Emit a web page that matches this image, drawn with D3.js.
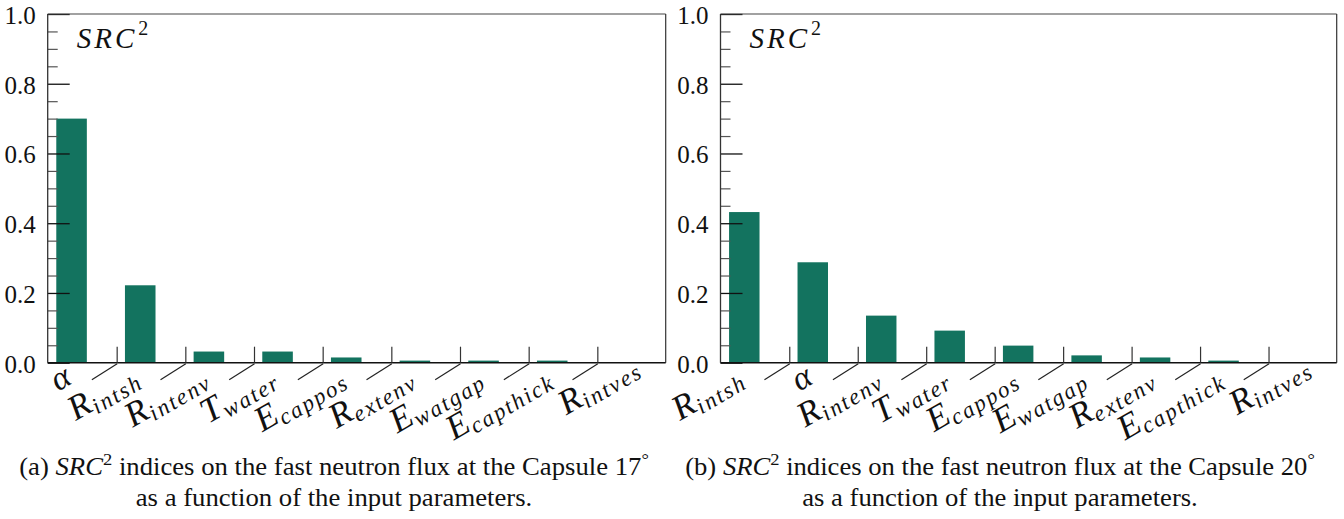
<!DOCTYPE html>
<html>
<head>
<meta charset="utf-8">
<script src="https://cdn.jsdelivr.net/npm/d3@7"></script>
<style>
  html, body { margin: 0; padding: 0; background: #fff; }
  svg { display: block; }
  text { font-family: "Liberation Serif", "Times New Roman", "DejaVu Serif", serif; fill: #111; }
</style>
</head>
<body>
<svg id="chart" width="1344" height="519"></svg>
<script>
// ---------------- data ----------------
const categoriesA = ["\u03b1", "R_intsh", "R_intenv", "T_water", "E_cappos", "R_extenv", "E_watgap", "E_capthick", "R_intves"];
const valuesA     = [0.700, 0.222, 0.032, 0.032, 0.015, 0.006, 0.006, 0.006, 0.000];

const categoriesB = ["R_intsh", "\u03b1", "R_intenv", "T_water", "E_cappos", "E_watgap", "R_extenv", "E_capthick", "R_intves"];
const valuesB     = [0.432, 0.288, 0.135, 0.092, 0.049, 0.021, 0.015, 0.006, 0.000];

const yMajorTicks = [0, 0.2, 0.4, 0.6, 0.8, 1.0];
const yTickLabels = ["0.0", "0.2", "0.4", "0.6", "0.8", "1.0"];
const yMinorTicks = [0.05, 0.1, 0.15, 0.25, 0.3, 0.35, 0.45, 0.5, 0.55, 0.65, 0.7, 0.75, 0.85, 0.9, 0.95];

const captionA = ["(a) ", "SRC", "2", " indices on the fast neutron flux at the Capsule 17", "\u00b0"];
const captionB = ["(b) ", "SRC", "2", " indices on the fast neutron flux at the Capsule 20", "\u00b0"];
const captionLine2 = "as a function of the input parameters.";
const panelLabel = ["SRC", "2"];

// ---------------- layout ----------------
const svg = d3.select("#chart");
const barColor = "#13735f";
const serif = "'Liberation Serif', 'Times New Roman', 'DejaVu Serif', serif";
const plotTop = 14, plotBottom = 362.7;
const lastLabelNudge = 22; // the last tick label sits further right in the original

const panels = [
  { cats: categoriesA, vals: valuesA, x0: 47.7, x1: 665.7, cap: captionA, capCx: 334 },
  { cats: categoriesB, vals: valuesB, x0: 720.5, x1: 1336.7, cap: captionB, capCx: 1000 }
];

const y = d3.scaleLinear().domain([0, 1]).range([plotBottom, plotTop]);

panels.forEach(p => {
  const g = svg.append("g").attr("font-family", serif);
  const x = d3.scaleBand().domain(p.cats).range([p.x0, p.x1]).paddingInner(0).paddingOuter(0);
  const bw = x.bandwidth();

  // bars
  g.selectAll("rect.bar").data(p.cats.map((c, i) => ({ c, v: p.vals[i] })))
    .enter().append("rect")
    .attr("class", "bar")
    .attr("x", d => x(d.c) + 0.125 * bw)
    .attr("width", 0.445 * bw)
    .attr("y", d => y(d.v))
    .attr("height", d => y(0) - y(d.v))
    .attr("fill", barColor);

  // minor ticks
  const minor = g.append("g").attr("transform", `translate(${p.x0},0)`)
    .call(d3.axisLeft(y).tickValues(yMinorTicks).tickSizeInner(-10).tickSizeOuter(0).tickFormat(""));
  minor.select(".domain").remove();
  minor.selectAll("line").attr("stroke", "#555").attr("stroke-width", 1.2);

  // major ticks
  const major = g.append("g").attr("transform", `translate(${p.x0},0)`)
    .call(d3.axisLeft(y).tickValues(yMajorTicks).tickSizeInner(-22).tickSizeOuter(0).tickPadding(12)
      .tickFormat((d, i) => yTickLabels[i]));
  major.attr("font-family", serif);
  major.select(".domain").remove();
  major.selectAll("line").attr("stroke", "#111").attr("stroke-width", 1.3);
  major.selectAll("text")
    .attr("font-size", 25)
    .attr("font-family", serif)
    .attr("fill", "#222")
    .attr("dy", "0.38em");

  // frame
  g.append("line").attr("x1", p.x0).attr("x2", p.x1).attr("y1", plotTop).attr("y2", plotTop).attr("stroke", "#444").attr("stroke-width", 1.2);
  g.append("line").attr("x1", p.x1).attr("x2", p.x1).attr("y1", plotTop).attr("y2", plotBottom).attr("stroke", "#333").attr("stroke-width", 1.2);
  g.append("line").attr("x1", p.x0).attr("x2", p.x0).attr("y1", plotTop).attr("y2", plotBottom).attr("stroke", "#333").attr("stroke-width", 1.3);
  g.append("line").attr("x1", p.x0).attr("x2", p.x1).attr("y1", plotBottom).attr("y2", plotBottom).attr("stroke", "#111").attr("stroke-width", 1.6);

  // x ticks at category boundaries
  const bounds = p.cats.slice(1).map(c => x(c));
  g.selectAll("line.xt").data(bounds).enter().append("line")
    .attr("x1", d => d + 0.8).attr("x2", d => d + 0.8)
    .attr("y1", plotBottom - 16).attr("y2", plotBottom)
    .attr("stroke", "#333").attr("stroke-width", 1.2);
  g.selectAll("line.xs").data(bounds).enter().append("line")
    .attr("x1", d => d + 0.8).attr("y1", plotBottom + 1)
    .attr("x2", d => d - 24.5).attr("y2", plotBottom + 17)
    .attr("stroke", "#222").attr("stroke-width", 1.2);

  // x labels
  p.cats.forEach((c, i) => {
    const cx = x(c) + 0.125 * bw + 0.2225 * bw;
    const parts = c.split("_");
    const t = g.append("text")
      .attr("transform", `translate(${cx + 2},${plotBottom + 20}) rotate(-30)`)
      .attr("x", i === p.cats.length - 1 ? lastLabelNudge : 0)
      .attr("text-anchor", "end")
      .attr("font-family", serif)
      .attr("font-style", "italic");
    t.append("tspan").attr("font-size", parts[1] ? 35 : 34).attr("letter-spacing", parts[1] ? 0.5 : 0).text(parts[0]);
    if (parts[1]) {
      t.append("tspan").attr("font-size", 23).attr("letter-spacing", 2).attr("dy", 5).text(parts[1]);
    }
  });

  // panel label SRC^2
  const lt = g.append("text").attr("x", p.x0 + 29).attr("y", 48).attr("font-size", 29).attr("font-family", serif);
  lt.append("tspan").attr("font-style", "italic").attr("letter-spacing", 3).text(panelLabel[0]);
  lt.append("tspan").attr("font-size", 20).attr("dx", 1).attr("dy", -13).text(panelLabel[1]);

  // caption
  const capG = g.append("g");
  const l1 = capG.append("text").attr("font-size", 24.5).attr("text-anchor", "middle").attr("font-family", serif);
  l1.append("tspan").text(p.cap[0]);
  l1.append("tspan").attr("font-style", "italic").text(p.cap[1]);
  l1.append("tspan").attr("font-size", 17).attr("dy", -10).text(p.cap[2]);
  l1.append("tspan").attr("dy", 10).text(p.cap[3]);
  l1.append("tspan").attr("font-size", 17).attr("dy", -10).text(p.cap[4]);
  capG.append("text").attr("font-size", 24.5).attr("text-anchor", "middle").attr("font-family", serif)
    .attr("y", 31).text(captionLine2);
  const w1 = l1.node().getComputedTextLength();
  const sx = 630 / w1;
  capG.attr("transform", `translate(${p.capCx},475) scale(${sx},1)`);
});
</script>
</body>
</html>
